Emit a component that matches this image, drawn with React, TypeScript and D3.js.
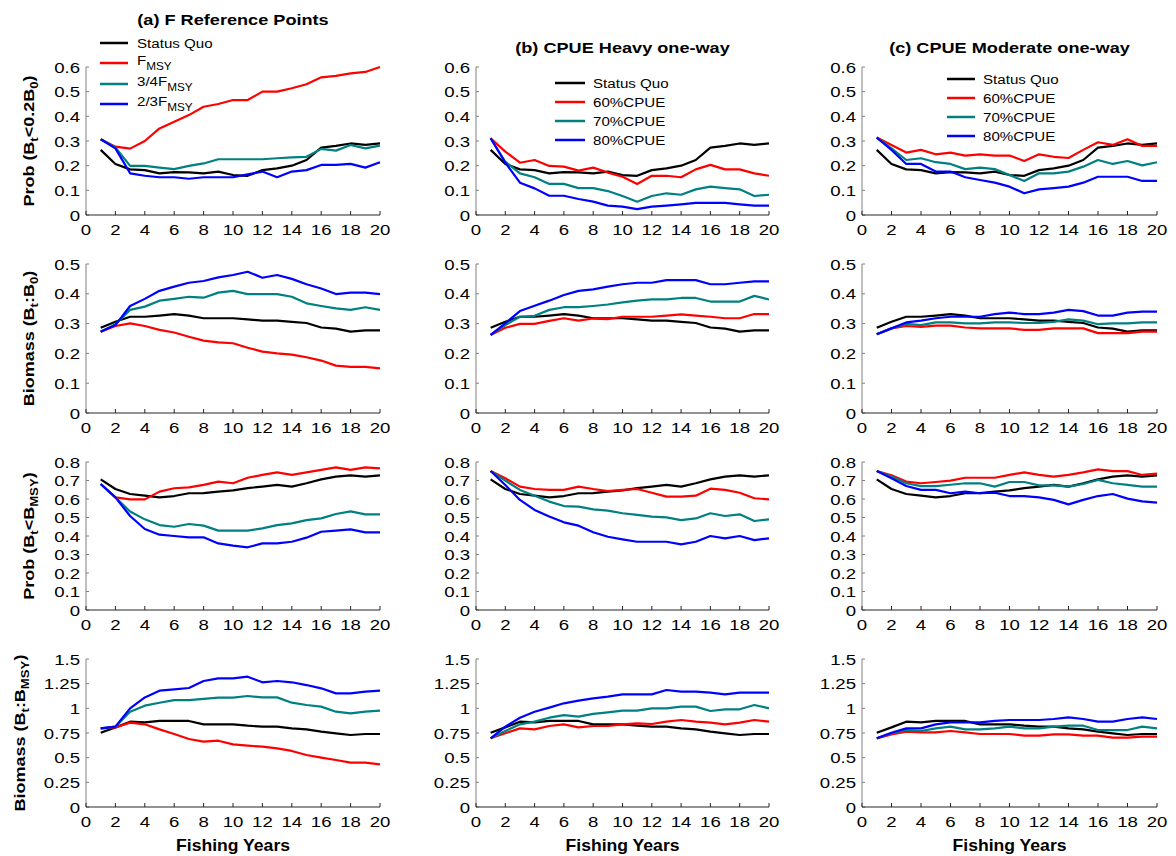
import React from 'react';
import * as d3 from 'd3';

// ---------------- data ----------------
const years = [1, 2, 3, 4, 5, 6, 7, 8, 9, 10, 11, 12, 13, 14, 15, 16, 17, 18, 19, 20];
const xTicks = [0, 2, 4, 6, 8, 10, 12, 14, 16, 18, 20];
const p02Ticks = [0, 0.1, 0.2, 0.3, 0.4, 0.5, 0.6];
const b0Ticks = [0, 0.1, 0.2, 0.3, 0.4, 0.5];
const pmsyTicks = [0, 0.1, 0.2, 0.3, 0.4, 0.5, 0.6, 0.7, 0.8];
const bmsyTicks = [0, 0.25, 0.5, 0.75, 1, 1.25, 1.5];

const titles = ['(a) F Reference Points', '(b) CPUE Heavy one-way', '(c) CPUE Moderate one-way'];
const legendA = ['Status Quo', 'F|MSY', '3/4F|MSY', '2/3F|MSY'];
const legendCPUE = ['Status Quo', '60%CPUE', '70%CPUE', '80%CPUE'];

// Prob(Bt < 0.2B0)
const sqP02 = [0.264, 0.207, 0.185, 0.182, 0.169, 0.174, 0.173, 0.169, 0.176, 0.162, 0.159, 0.182, 0.189, 0.2, 0.223, 0.273, 0.28, 0.29, 0.284, 0.29];
const fmsyP02 = [0.307, 0.277, 0.269, 0.3, 0.351, 0.378, 0.405, 0.439, 0.45, 0.466, 0.466, 0.5, 0.5, 0.514, 0.53, 0.558, 0.564, 0.574, 0.58, 0.6];
const f34P02 = [0.307, 0.274, 0.199, 0.199, 0.192, 0.186, 0.199, 0.209, 0.226, 0.226, 0.226, 0.226, 0.23, 0.234, 0.236, 0.268, 0.261, 0.284, 0.27, 0.281];
const f23P02 = [0.307, 0.27, 0.169, 0.159, 0.153, 0.153, 0.147, 0.153, 0.153, 0.153, 0.165, 0.176, 0.153, 0.176, 0.182, 0.203, 0.203, 0.207, 0.192, 0.214];
const heavy60P02 = [0.311, 0.257, 0.212, 0.223, 0.199, 0.196, 0.18, 0.192, 0.172, 0.155, 0.126, 0.159, 0.159, 0.153, 0.185, 0.203, 0.185, 0.185, 0.169, 0.159];
const heavy70P02 = [0.311, 0.216, 0.169, 0.153, 0.126, 0.126, 0.109, 0.109, 0.097, 0.077, 0.054, 0.077, 0.088, 0.082, 0.104, 0.115, 0.109, 0.104, 0.077, 0.082];
const heavy80P02 = [0.311, 0.212, 0.131, 0.108, 0.078, 0.078, 0.065, 0.054, 0.038, 0.034, 0.024, 0.034, 0.038, 0.043, 0.049, 0.049, 0.049, 0.043, 0.038, 0.038];
const mod60P02 = [0.314, 0.284, 0.253, 0.264, 0.246, 0.253, 0.241, 0.246, 0.241, 0.241, 0.219, 0.246, 0.236, 0.231, 0.264, 0.295, 0.284, 0.307, 0.28, 0.28];
const mod70P02 = [0.314, 0.27, 0.223, 0.23, 0.214, 0.207, 0.186, 0.192, 0.186, 0.162, 0.138, 0.169, 0.169, 0.176, 0.196, 0.223, 0.207, 0.219, 0.201, 0.214];
const mod80P02 = [0.314, 0.264, 0.207, 0.207, 0.176, 0.176, 0.153, 0.142, 0.131, 0.115, 0.088, 0.104, 0.109, 0.115, 0.131, 0.155, 0.155, 0.155, 0.138, 0.138];

// Biomass (Bt:B0)
const sqB0 = [0.286, 0.306, 0.323, 0.323, 0.327, 0.332, 0.327, 0.318, 0.318, 0.318, 0.314, 0.31, 0.31, 0.306, 0.302, 0.287, 0.283, 0.273, 0.277, 0.277];
const fmsyB0 = [0.273, 0.292, 0.301, 0.292, 0.279, 0.27, 0.256, 0.243, 0.237, 0.234, 0.219, 0.206, 0.2, 0.196, 0.187, 0.176, 0.159, 0.155, 0.155, 0.15];
const f34B0 = [0.273, 0.298, 0.346, 0.357, 0.377, 0.383, 0.39, 0.387, 0.404, 0.41, 0.399, 0.399, 0.399, 0.39, 0.368, 0.359, 0.351, 0.346, 0.355, 0.346];
const f23B0 = [0.273, 0.295, 0.359, 0.383, 0.41, 0.424, 0.437, 0.443, 0.455, 0.463, 0.474, 0.454, 0.463, 0.45, 0.432, 0.418, 0.399, 0.404, 0.404, 0.399];
const heavy60B0 = [0.262, 0.286, 0.299, 0.299, 0.309, 0.318, 0.31, 0.317, 0.315, 0.323, 0.323, 0.323, 0.327, 0.331, 0.327, 0.323, 0.318, 0.318, 0.332, 0.332];
const heavy70B0 = [0.262, 0.295, 0.323, 0.326, 0.346, 0.355, 0.355, 0.359, 0.364, 0.371, 0.377, 0.381, 0.381, 0.386, 0.386, 0.374, 0.374, 0.374, 0.393, 0.381];
const heavy80B0 = [0.262, 0.301, 0.342, 0.36, 0.377, 0.396, 0.41, 0.415, 0.424, 0.432, 0.437, 0.437, 0.446, 0.446, 0.446, 0.432, 0.432, 0.437, 0.442, 0.442];
const mod60B0 = [0.264, 0.284, 0.292, 0.289, 0.293, 0.293, 0.287, 0.284, 0.284, 0.284, 0.279, 0.279, 0.284, 0.284, 0.284, 0.268, 0.268, 0.268, 0.273, 0.273];
const mod70B0 = [0.264, 0.284, 0.299, 0.295, 0.304, 0.304, 0.301, 0.301, 0.304, 0.304, 0.302, 0.302, 0.306, 0.314, 0.31, 0.298, 0.301, 0.301, 0.304, 0.304];
const mod80B0 = [0.264, 0.284, 0.304, 0.31, 0.318, 0.323, 0.323, 0.323, 0.332, 0.337, 0.332, 0.332, 0.337, 0.346, 0.342, 0.327, 0.327, 0.337, 0.34, 0.34];

// Prob(Bt < BMSY)
const sqPMSY = [0.706, 0.654, 0.627, 0.618, 0.609, 0.616, 0.631, 0.632, 0.64, 0.647, 0.659, 0.667, 0.676, 0.667, 0.685, 0.706, 0.721, 0.728, 0.721, 0.728];
const fmsyPMSY = [0.681, 0.609, 0.598, 0.598, 0.64, 0.658, 0.663, 0.676, 0.694, 0.685, 0.715, 0.73, 0.744, 0.73, 0.744, 0.757, 0.771, 0.757, 0.771, 0.766];
const f34PMSY = [0.681, 0.609, 0.532, 0.49, 0.459, 0.45, 0.465, 0.456, 0.429, 0.429, 0.429, 0.441, 0.459, 0.468, 0.486, 0.495, 0.519, 0.533, 0.517, 0.517];
const f23PMSY = [0.681, 0.609, 0.508, 0.438, 0.407, 0.4, 0.393, 0.393, 0.36, 0.348, 0.339, 0.36, 0.36, 0.369, 0.391, 0.423, 0.429, 0.436, 0.42, 0.42];
const heavy60PMSY = [0.751, 0.712, 0.667, 0.654, 0.649, 0.649, 0.667, 0.654, 0.643, 0.649, 0.654, 0.634, 0.613, 0.613, 0.618, 0.656, 0.649, 0.634, 0.604, 0.598];
const heavy70PMSY = [0.751, 0.699, 0.649, 0.618, 0.586, 0.562, 0.559, 0.544, 0.537, 0.523, 0.514, 0.505, 0.501, 0.486, 0.495, 0.523, 0.508, 0.517, 0.481, 0.49];
const heavy80PMSY = [0.751, 0.676, 0.595, 0.541, 0.505, 0.474, 0.456, 0.42, 0.396, 0.382, 0.369, 0.369, 0.369, 0.355, 0.369, 0.4, 0.387, 0.4, 0.378, 0.387];
const mod60PMSY = [0.751, 0.728, 0.694, 0.685, 0.692, 0.699, 0.715, 0.715, 0.715, 0.73, 0.744, 0.73, 0.721, 0.73, 0.744, 0.76, 0.751, 0.751, 0.73, 0.737];
const mod70PMSY = [0.751, 0.721, 0.685, 0.67, 0.67, 0.677, 0.685, 0.685, 0.667, 0.692, 0.692, 0.674, 0.674, 0.667, 0.681, 0.703, 0.685, 0.676, 0.667, 0.667];
const mod80PMSY = [0.751, 0.712, 0.67, 0.649, 0.649, 0.631, 0.64, 0.631, 0.634, 0.616, 0.616, 0.609, 0.595, 0.571, 0.595, 0.616, 0.627, 0.602, 0.587, 0.58];

// Biomass (Bt:BMSY)
const sqBMSY = [0.753, 0.807, 0.865, 0.858, 0.872, 0.872, 0.872, 0.838, 0.838, 0.838, 0.824, 0.814, 0.814, 0.797, 0.787, 0.764, 0.747, 0.73, 0.74, 0.74];
const fmsyBMSY = [0.797, 0.807, 0.855, 0.838, 0.787, 0.74, 0.689, 0.662, 0.672, 0.635, 0.622, 0.611, 0.595, 0.568, 0.527, 0.5, 0.476, 0.449, 0.449, 0.432];
const f34BMSY = [0.797, 0.814, 0.966, 1.027, 1.057, 1.084, 1.084, 1.095, 1.108, 1.108, 1.125, 1.111, 1.111, 1.057, 1.034, 1.017, 0.966, 0.949, 0.966, 0.976];
const f23BMSY = [0.797, 0.814, 1.0, 1.111, 1.179, 1.193, 1.206, 1.277, 1.304, 1.304, 1.321, 1.264, 1.277, 1.264, 1.236, 1.203, 1.152, 1.152, 1.169, 1.179];
const heavy60BMSY = [0.696, 0.747, 0.797, 0.787, 0.821, 0.838, 0.807, 0.821, 0.821, 0.838, 0.848, 0.841, 0.865, 0.882, 0.865, 0.855, 0.838, 0.855, 0.882, 0.865];
const heavy70BMSY = [0.696, 0.77, 0.838, 0.865, 0.905, 0.932, 0.916, 0.943, 0.959, 0.976, 0.976, 1.0, 1.0, 1.017, 1.017, 0.973, 0.99, 0.99, 1.034, 1.0];
const heavy80BMSY = [0.696, 0.814, 0.905, 0.966, 1.007, 1.051, 1.078, 1.101, 1.118, 1.142, 1.142, 1.142, 1.186, 1.169, 1.169, 1.159, 1.142, 1.159, 1.159, 1.159];
const mod60BMSY = [0.696, 0.736, 0.764, 0.757, 0.757, 0.77, 0.757, 0.74, 0.74, 0.74, 0.723, 0.723, 0.736, 0.736, 0.723, 0.723, 0.703, 0.703, 0.713, 0.713];
const mod70BMSY = [0.696, 0.747, 0.78, 0.77, 0.797, 0.814, 0.787, 0.787, 0.797, 0.814, 0.797, 0.797, 0.814, 0.824, 0.824, 0.78, 0.78, 0.78, 0.814, 0.797];
const mod80BMSY = [0.696, 0.753, 0.797, 0.797, 0.838, 0.858, 0.858, 0.858, 0.872, 0.882, 0.882, 0.882, 0.892, 0.909, 0.892, 0.865, 0.865, 0.892, 0.909, 0.892];

// ---------------- layout / style ----------------
const W = 1176;
const H = 856;
const FONT = "'Liberation Sans', Arial, Helvetica, sans-serif";
const SERIES_COLORS = ['#000000', '#ff0000', '#008080', '#0000ff'];
const COLS = [
  { x0: 86, x1: 380 },
  { x0: 476, x1: 769 },
  { x0: 862, x1: 1157 },
];
const ROWS = [
  { y0: 215, y1: 67, max: 0.6, ticks: p02Ticks, sq: sqP02, sets: [[fmsyP02, f34P02, f23P02], [heavy60P02, heavy70P02, heavy80P02], [mod60P02, mod70P02, mod80P02]], label: 'Prob (B|t|<0.2B|0|)', labelX: 34 },
  { y0: 413, y1: 264, max: 0.5, ticks: b0Ticks, sq: sqB0, sets: [[fmsyB0, f34B0, f23B0], [heavy60B0, heavy70B0, heavy80B0], [mod60B0, mod70B0, mod80B0]], label: 'Biomass (B|t|:B|0|)', labelX: 34 },
  { y0: 610, y1: 462, max: 0.8, ticks: pmsyTicks, sq: sqPMSY, sets: [[fmsyPMSY, f34PMSY, f23PMSY], [heavy60PMSY, heavy70PMSY, heavy80PMSY], [mod60PMSY, mod70PMSY, mod80PMSY]], label: 'Prob (B|t|<B|MSY|)', labelX: 34 },
  { y0: 807, y1: 659, max: 1.5, ticks: bmsyTicks, sq: sqBMSY, sets: [[fmsyBMSY, f34BMSY, f23BMSY], [heavy60BMSY, heavy70BMSY, heavy80BMSY], [mod60BMSY, mod70BMSY, mod80BMSY]], label: 'Biomass (B|t|:B|MSY|)', labelX: 25 },
];
const LEGENDS = [
  { lx0: 100, lx1: 128, tx: 137, ys: [43, 63, 84, 104], items: legendA },
  { lx0: 555, lx1: 585, tx: 593, ys: [83, 102, 121, 140], items: legendCPUE },
  { lx0: 947, lx1: 975, tx: 983, ys: [79, 98, 117, 136], items: legendCPUE },
];
const TITLE_Y = [25, 53, 53];

// split "A|sub|B" into parts: odd index = subscript
function parts(s: string) {
  return s.split('|').map((t, i) => ({ t, sub: i % 2 === 1 })).filter((p) => p.t.length > 0);
}

function Rich({ x, y, text, size, subSize, subDy, weight = 'normal', anchor = 'start', sx = 1, rotate = 0 }: any) {
  let cur = 0;
  const ps = parts(text);
  const spans = ps.map((p, i) => {
    const target = p.sub ? subDy : 0;
    const dy = target - cur;
    cur = target;
    return (
      <tspan key={i} dy={dy} fontSize={p.sub ? subSize : size}>
        {p.t}
      </tspan>
    );
  });
  const tf = `translate(${x},${y})${rotate ? ` rotate(${rotate})` : ''} scale(${sx},1)`;
  return (
    <text transform={tf} fontFamily={FONT} fontSize={size} fontWeight={weight} textAnchor={anchor} fill="#000">
      {spans}
    </text>
  );
}

function Panel({ r, c }: { r: number; c: number }) {
  const row = ROWS[r];
  const col = COLS[c];
  const x = d3.scaleLinear().domain([0, 20]).range([col.x0, col.x1]);
  const y = d3.scaleLinear().domain([0, row.max]).range([row.y0, row.y1]);
  const line = d3
    .line<number>()
    .x((_, i) => x(years[i]))
    .y((d) => y(d));
  const series = [row.sq, ...row.sets[c]];
  return (
    <g>
      {/* lines */}
      {series.map((s, i) => (
        <path key={i} d={line(s) || ''} fill="none" stroke={SERIES_COLORS[i]} strokeWidth={2.2} strokeLinejoin="round" />
      ))}
      {/* y axis */}
      <line x1={col.x0} x2={col.x0} y1={y(0)} y2={y(row.max)} stroke="#808080" strokeWidth={1} />
      {row.ticks.map((t) => (
        <g key={'y' + t}>
          <line x1={col.x0} x2={col.x0 + 3} y1={y(t)} y2={y(t)} stroke="#808080" strokeWidth={1} />
          <Rich x={col.x0 - 6} y={y(t) + 5.6} text={String(t)} size={15.5} anchor="end" sx={1.2} />
        </g>
      ))}
      {/* x axis */}
      <line x1={col.x0} x2={col.x1} y1={row.y0} y2={row.y0} stroke="#262626" strokeWidth={1.2} />
      {xTicks.map((t) => (
        <g key={'x' + t}>
          <line x1={x(t)} x2={x(t)} y1={row.y0} y2={row.y0 - 4} stroke="#262626" strokeWidth={1} />
          <Rich x={x(t)} y={row.y0 + 20} text={String(t)} size={15.5} anchor="middle" sx={1.2} />
        </g>
      ))}
    </g>
  );
}

export default function App() {
  return (
    <svg width={W} height={H} style={{ position: 'absolute', left: 0, top: 0, background: '#fff' }}>
      <rect x={0} y={0} width={W} height={H} fill="#fff" />
      {ROWS.map((_, r) => COLS.map((__, c) => <Panel key={r + '-' + c} r={r} c={c} />))}
      {/* titles */}
      {COLS.map((col, c) => (
        <Rich key={'t' + c} x={(col.x0 + col.x1) / 2} y={TITLE_Y[c]} text={titles[c]} size={15.5} weight="bold" anchor="middle" sx={1.17} />
      ))}
      {/* x labels */}
      {COLS.map((col, c) => (
        <Rich key={'xl' + c} x={(col.x0 + col.x1) / 2} y={851} text="Fishing Years" size={16} weight="bold" anchor="middle" sx={1.1} />
      ))}
      {/* y labels */}
      {ROWS.map((row, r) => (
        <Rich key={'yl' + r} x={row.labelX} y={(row.y0 + row.y1) / 2} text={row.label} size={15} subSize={11} subDy={4} weight="bold" anchor="middle" sx={1.2} rotate={-90} />
      ))}
      {/* legends */}
      {LEGENDS.map((lg, c) => (
        <g key={'lg' + c}>
          {lg.items.map((it, i) => {
            const hasSub = it.includes('|');
            return (
              <g key={i}>
                <line x1={lg.lx0} x2={lg.lx1} y1={lg.ys[i]} y2={lg.ys[i]} stroke={SERIES_COLORS[i]} strokeWidth={2.5} />
                <Rich x={lg.tx} y={lg.ys[i] + (hasSub ? 2 : 4.8)} text={it} size={13.5} subSize={10.5} subDy={4.5} sx={1.12} />
              </g>
            );
          })}
        </g>
      ))}
    </svg>
  );
}
